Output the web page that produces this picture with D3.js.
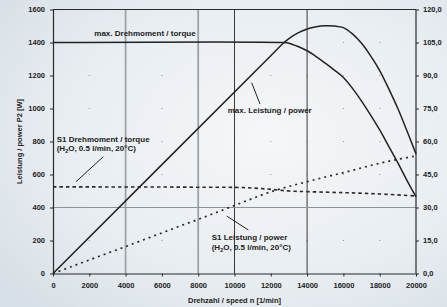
<!DOCTYPE html>
<html><head><meta charset="utf-8">
<script src="https://cdn.jsdelivr.net/npm/d3@7"></script>
<style>
html,body{margin:0;padding:0;background:#e6ecf1;}
svg{display:block;font-family:"Liberation Sans",Arial,sans-serif;}
</style></head>
<body>
<svg id="c" width="447" height="307"></svg>
<script>
// ---- data ----
const xTicks = [0,2000,4000,6000,8000,10000,12000,14000,16000,18000,20000];
const yTicks = [0,200,400,600,800,1000,1200,1400,1600];
const y2Ticks = [0,15,30,45,60,75,90,105,120];

const torqueSpeed = [0,12700,13000,13500,14000,14500,15000,15500,16000,16500,17000,17500,18000,18500,19000,19500,20000];
const torqueVal   = [1400,1400,1396,1376,1350,1315,1275,1233,1188,1122,1045,960,870,770,670,565,465];

const powerSpeed = [0,12000,12700,13000,13500,14000,14500,15000,15500,16000,16500,17000,17500,18000,18500,19000,19500,20000];
const powerVal   = [0,1320,1397,1424,1458,1482,1496,1502,1500,1490,1452,1395,1319,1230,1119,1000,865,725];

const s1TorqueSpeed = [0,2000,4000,6000,8000,10000,11000,12000,13000,14000,16000,18000,20000];
const s1TorqueVal   = [525,525,524,524,523,522,518,510,500,496,490,482,470];

const s1PowerSpeed = [0,1000,2000,3000,4000,5000,6000,7000,8000,9000,10000,11000,12000,13000,14000,15000,16000,17000,18000,19000,20000];
const s1PowerVal   = [0,41,82,123,163,205,246,288,328,370,412,455,495,528,556,585,611,640,668,692,712];

// ---- layout ----
const svg = d3.select("#c");
const L = 53, R = 416, T = 9.5, B = 273.5;
const x = d3.scaleLinear().domain([0,20000]).range([L,R]);
const y = d3.scaleLinear().domain([0,1600]).range([B,T]);
const y2 = d3.scaleLinear().domain([0,120]).range([B,T]);

// background
const defs = svg.append("defs");
const rg = defs.append("radialGradient").attr("id","bg").attr("cx","0.6").attr("cy","0.45").attr("r","0.75");
rg.append("stop").attr("offset","0").attr("stop-color","#f5f7f9");
rg.append("stop").attr("offset","0.6").attr("stop-color","#e9eef2");
rg.append("stop").attr("offset","1").attr("stop-color","#d8e0e7");
svg.append("rect").attr("width",447).attr("height",307).attr("fill","url(#bg)");

const ink = "#2a2a2a";

// grid dots
const dots = [];
xTicks.forEach(a => yTicks.forEach(b => { if (a>0 && a<20000 && b>0 && b<1600) dots.push([a,b]); }));
svg.append("g").selectAll("circle").data(dots).join("circle")
  .attr("cx", d=>x(d[0])).attr("cy", d=>y(d[1])).attr("r",0.6).attr("fill","#8a8f94");

// grid lines
const grayV = [4000,8000], darkV = [10000,14000];
svg.append("g").selectAll("line").data(grayV).join("line")
  .attr("x1",d=>x(d)).attr("x2",d=>x(d)).attr("y1",y(1600)).attr("y2",y(0))
  .attr("stroke","#9ea3a8").attr("stroke-width",1.8);
svg.append("g").selectAll("line").data(darkV).join("line")
  .attr("x1",d=>x(d)).attr("x2",d=>x(d)).attr("y1",y(1600)).attr("y2",y(0))
  .attr("stroke","#3a3a3a").attr("stroke-width",1);
svg.append("line").attr("x1",x(0)).attr("x2",x(20000)).attr("y1",y(400)).attr("y2",y(400))
  .attr("stroke","#8e9398").attr("stroke-width",1.2);

// frame
svg.append("line").attr("x1",x(0)).attr("x2",x(20000)).attr("y1",y(1600)).attr("y2",y(1600)).attr("stroke",ink).attr("stroke-width",1.2);
svg.append("line").attr("x1",x(20000)).attr("x2",x(20000)).attr("y1",y(1600)).attr("y2",y(0)).attr("stroke",ink).attr("stroke-width",1.2);

// axes
const fmtR = d => d3.format(".1f")(d).replace(".", ",");
const styleAxis = g => {
  g.select(".domain").attr("stroke",ink).attr("stroke-width",1.2);
  g.selectAll(".tick line").attr("stroke",ink);
  g.selectAll(".tick text").attr("fill","#222").style("font-size","7.5px").style("font-weight","bold")
   .style("font-family","'Liberation Sans',Arial,sans-serif");
};
svg.append("g").attr("transform",`translate(0,${B})`)
  .call(d3.axisBottom(x).tickValues(xTicks).tickSize(3).tickPadding(6).tickSizeOuter(0).tickFormat(d3.format("d")))
  .call(styleAxis);
svg.append("g").attr("transform",`translate(${L},0)`)
  .call(d3.axisLeft(y).tickValues(yTicks).tickSize(3).tickPadding(5).tickSizeOuter(0).tickFormat(d3.format("d")))
  .call(styleAxis);
svg.append("g").attr("transform",`translate(${R},0)`)
  .call(d3.axisRight(y2).tickValues(y2Ticks).tickSize(3).tickPadding(4).tickSizeOuter(0).tickFormat(fmtR))
  .call(g => { styleAxis(g); g.select(".domain").remove(); });

// axis titles
svg.append("text").attr("x",(L+R)/2).attr("y",303).attr("text-anchor","middle")
  .style("font-size","7.5px").style("font-weight","bold").attr("fill","#222")
  .text("Drehzahl / speed n [1/min]");
svg.append("text").attr("transform",`translate(22,${(T+B)/2}) rotate(-90)`).attr("text-anchor","middle")
  .style("font-size","7.5px").style("font-weight","bold").attr("fill","#222")
  .text("Leistung / power P2 [W]");

// series
const mk = (sp, v) => sp.map((s,i)=>[s,v[i]]);
const line = d3.line().x(d=>x(d[0])).y(d=>y(d[1])).curve(d3.curveCatmullRom.alpha(0.5));
svg.append("path").attr("d", line(mk(s1TorqueSpeed,s1TorqueVal))).attr("fill","none")
  .attr("stroke","#2a2a2a").attr("stroke-width",1.6).attr("stroke-dasharray","3.5,3");
svg.append("path").attr("d", line(mk(s1PowerSpeed,s1PowerVal))).attr("fill","none")
  .attr("stroke","#2a2a2a").attr("stroke-width",1.7).attr("stroke-dasharray","2,4");
svg.append("path").attr("d", line(mk(torqueSpeed,torqueVal))).attr("fill","none")
  .attr("stroke","#222").attr("stroke-width",1.5);
svg.append("path").attr("d", line(mk(powerSpeed,powerVal))).attr("fill","none")
  .attr("stroke","#222").attr("stroke-width",1.5);

// annotations (positions in data units)
const ann = svg.append("g").style("font-size","8px").style("font-weight","bold").attr("fill","#222");
ann.append("text").attr("x",x(2275)).attr("y",y(1439)).text("max. Drehmoment / torque");
ann.append("text").attr("x",x(9625)).attr("y",y(973)).text("max. Leistung / power");
ann.append("text").attr("x",x(204)).attr("y",y(797)).text("S1 Drehmoment / torque");
const t1 = ann.append("text").attr("x",x(204)).attr("y",y(742));
t1.append("tspan").text("(H");
t1.append("tspan").attr("dy",1.5).style("font-size","5.5px").text("2");
t1.append("tspan").attr("dy",-1.5).text("O, 0.5 l/min, 20°C)");
ann.append("text").attr("x",x(8744)).attr("y",y(203)).text("S1 Leistung / power");
const t2 = ann.append("text").attr("x",x(8744)).attr("y",y(142));
t2.append("tspan").text("(H");
t2.append("tspan").attr("dy",1.5).style("font-size","5.5px").text("2");
t2.append("tspan").attr("dy",-1.5).text("O, 0.5 l/min, 20°C)");

const pointers = [[10948,1156,11405,1027],[2771,708,1267,556],[9570,348,10760,264]];
svg.append("g").selectAll("line").data(pointers).join("line")
  .attr("x1",d=>x(d[0])).attr("y1",d=>y(d[1])).attr("x2",d=>x(d[2])).attr("y2",d=>y(d[3]))
  .attr("stroke","#222").attr("stroke-width",1);
</script>
</body></html>
